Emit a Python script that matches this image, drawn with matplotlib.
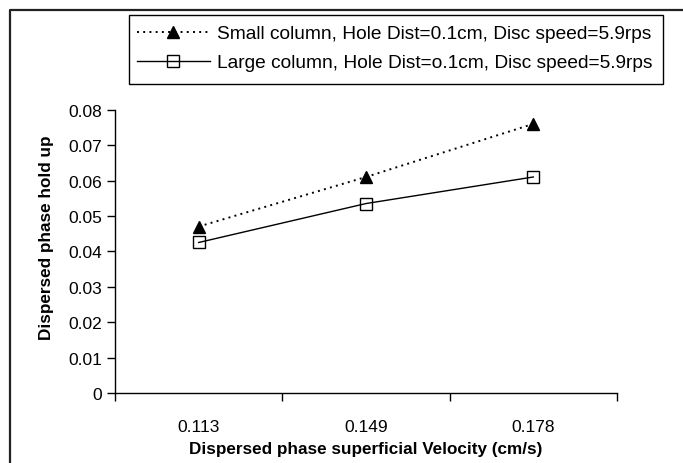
import matplotlib
matplotlib.use("Agg")
import matplotlib.pyplot as plt
from matplotlib.lines import Line2D
from matplotlib.patches import Rectangle

plt.rcParams['font.family'] = ['Liberation Sans', 'DejaVu Sans']

velocity_labels = ["0.113", "0.149", "0.178"]
small_column = [0.047, 0.061, 0.076]
large_column = [0.0425, 0.0535, 0.061]
series_names = [
    "Small column, Hole Dist=0.1cm, Disc speed=5.9rps",
    "Large column, Hole Dist=o.1cm, Disc speed=5.9rps",
]
y_ticks = [0, 0.01, 0.02, 0.03, 0.04, 0.05, 0.06, 0.07, 0.08]

W, H = 683, 464
fig = plt.figure(figsize=(W / 100, H / 100), dpi=100)
ax = fig.add_axes([115 / W, 1 - 394 / H, (617 - 115) / W, (394 - 110.7) / H])

x = list(range(len(velocity_labels)))
l1, = ax.plot(x, small_column, color="black", linestyle=(0, (1, 2.2)), linewidth=1.4,
              marker="^", markersize=9, markerfacecolor="black", markeredgecolor="black")
l2, = ax.plot(x, large_column, color="black", linestyle="-", linewidth=1.0,
              marker="s", markersize=8, markerfacecolor="none", markeredgecolor="black",
              markeredgewidth=1.0)

ax.set_xlim(-0.5, len(x) - 0.5)
ax.set_ylim(0, 0.08)
ax.set_yticks(y_ticks)
ax.set_yticklabels(["0"] + [f"{v:.2f}" for v in y_ticks[1:]])

# category boundaries carry the tick marks, labels sit at the category centres
ax.set_xticks([i - 0.5 for i in range(len(x) + 1)])
ax.set_xticklabels([])
ax.set_xticks(x, minor=True)
ax.set_xticklabels(velocity_labels, minor=True)
ax.tick_params(axis="x", which="minor", length=0, pad=19, labelsize=12.5)
ax.tick_params(axis="x", which="major", length=5.5, width=1, direction="out")
ax.tick_params(axis="y", length=5.5, width=1, direction="out", labelsize=12.5, pad=4)

for s in ("top", "right"):
    ax.spines[s].set_visible(False)
for s in ("left", "bottom"):
    ax.spines[s].set_linewidth(1.0)

ax.set_xlabel("Dispersed phase superficial Velocity (cm/s)", fontsize=12.3,
              fontweight="bold")
ax.set_ylabel("Dispersed phase hold up", fontsize=12.3, fontweight="bold")
ax_w = 617 - 115
ax_h = 394 - 110.7
ax.xaxis.set_label_coords((366 - 115) / ax_w, -(442 - 394) / ax_h)
ax.yaxis.set_label_coords(-(115 - 54) / ax_w, (394 - 238) / ax_h)

leg = fig.legend([l1, l2], series_names, loc="upper left",
                 bbox_to_anchor=(137 / W, 1 - 26 / H), fontsize=13.8,
                 frameon=False, handlelength=3.8, handletextpad=0.35,
                 labelspacing=0.6, borderpad=0, borderaxespad=0)

# legend frame
fig.add_artist(Rectangle((129 / W, 1 - 85 / H), (662.5 - 129) / W, (85 - 15.5) / H,
                         transform=fig.transFigure, fill=False, edgecolor="black",
                         linewidth=1.0))

# outer chart border (top and left edges)
fig.add_artist(Line2D([10 / W, 10 / W, 1.0], [0.0, 1 - 11 / H, 1 - 11 / H],
                      transform=fig.transFigure, color="#222222", linewidth=1.6))

fig.savefig("out.png", dpi=100)
